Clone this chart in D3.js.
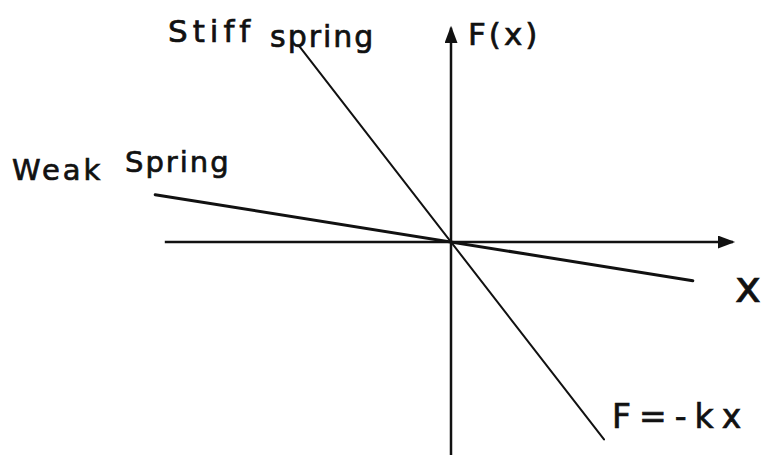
<!DOCTYPE html>
<html>
<head>
<meta charset="utf-8">
<script src="https://cdn.jsdelivr.net/npm/d3@7"></script>
<style>
  html, body { margin: 0; padding: 0; background: #fff; }
  svg { display: block; }
  text { font-family: "DejaVu Sans", sans-serif; fill: #111; stroke: #111; stroke-width: 0.7; }
</style>
</head>
<body>
<svg id="chart"></svg>
<script>
const width = 774, height = 455;

// spring lines F = -k x, drawn between xStart and xEnd
const springNames = ['Weak Spring', 'Stiff spring'];
const springK = [0.16, 1.29];
const springXStart = [-4.93, -2.52];
const springXEnd = [4.03, 2.55];

// axis extents (in chart units)
const xAxisExtent = [-4.77, 4.7];
const yAxisExtent = [-3.55, 3.57];

const xScale = d3.scaleLinear().domain([-5, 5]).range([151, 751]);
const yScale = d3.scaleLinear().domain([-4, 4]).range([482, 2]);

const svg = d3.select('#chart')
    .attr('width', width)
    .attr('height', height)
    .attr('viewBox', [0, 0, width, height]);

svg.append('defs').append('marker')
    .attr('id', 'arrow')
    .attr('viewBox', '0 -6 16 12')
    .attr('refX', 14)
    .attr('refY', 0)
    .attr('markerUnits', 'userSpaceOnUse')
    .attr('markerWidth', 18)
    .attr('markerHeight', 13)
    .attr('orient', 'auto')
  .append('path')
    .attr('d', 'M0,-6L16,0L0,6Z')
    .attr('fill', '#111');

// axes
svg.append('line')
    .attr('x1', xScale(xAxisExtent[0])).attr('y1', yScale(0))
    .attr('x2', xScale(xAxisExtent[1])).attr('y2', yScale(0))
    .attr('stroke', '#111').attr('stroke-width', 2.5)
    .attr('marker-end', 'url(#arrow)');

svg.append('line')
    .attr('x1', xScale(0)).attr('y1', yScale(yAxisExtent[0]))
    .attr('x2', xScale(0)).attr('y2', yScale(yAxisExtent[1]))
    .attr('stroke', '#111').attr('stroke-width', 2.5)
    .attr('marker-end', 'url(#arrow)');

// spring lines
const springs = springNames.map((name, i) => ({
    name: name, k: springK[i], x0: springXStart[i], x1: springXEnd[i]
}));

svg.append('g')
  .selectAll('line')
  .data(springs)
  .join('line')
    .attr('x1', d => xScale(d.x0))
    .attr('y1', d => yScale(-d.k * d.x0))
    .attr('x2', d => xScale(d.x1))
    .attr('y2', d => yScale(-d.k * d.x1))
    .attr('stroke', '#111')
    .attr('stroke-width', d => d.k < 1 ? 3 : 2)
    .attr('stroke-linecap', 'round');

// labels (hand-written words placed one by one)
let label = (x, y, size, txt, spacing = 0) =>
    svg.append('text')
        .attr('x', x).attr('y', y)
        .attr('font-size', size)
        .attr('letter-spacing', spacing)
        .text(txt);

label(168, 42, 31, 'Stiff', 5);
label(270, 47, 30, 'spring', 2);
label(468, 45, 31, 'F(x)', 3);
label(12, 180, 29, 'Weak', 3);
label(125, 172, 29, 'Spring', 2);
label(735, 302, 44, 'x');
label(612, 428, 33, 'F=-kx', 8);
</script>
</body>
</html>
